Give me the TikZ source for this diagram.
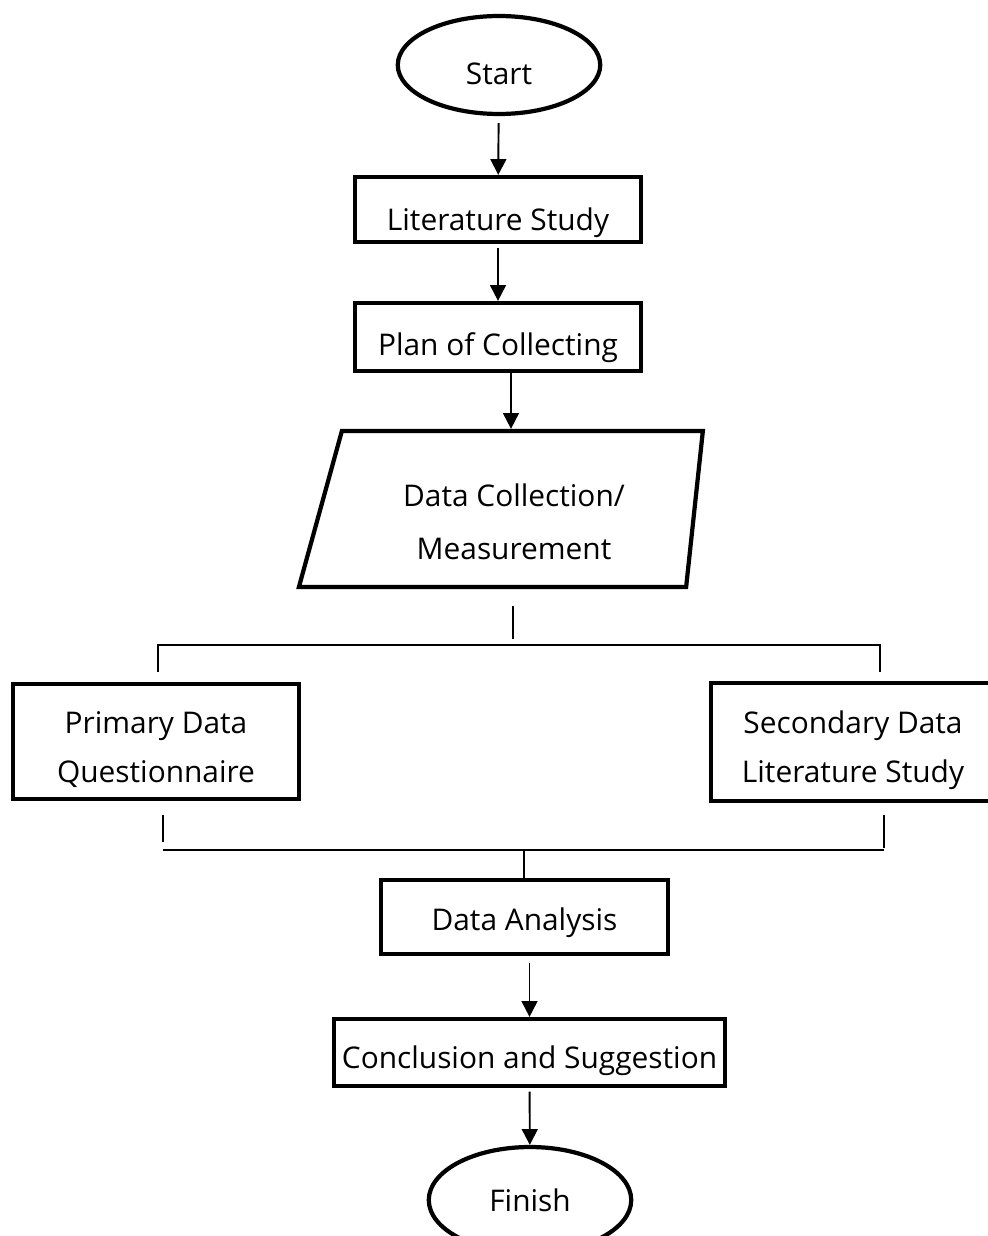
\documentclass[tikz,border=0pt]{standalone}
\usepackage{fontspec}
\setmainfont{Open Sans}
\usetikzlibrary{shapes.geometric, arrows.meta}
\tikzset{
	terminal/.style={draw, ellipse, line width=2.4pt, minimum width=4.05cm, minimum height=1.96cm, inner sep=0pt},
	process/.style={draw, rectangle, line width=2.4pt, inner sep=2pt},
	io/.style={draw, trapezium, trapezium left angle=69, trapezium right angle=98.5, trapezium stretches body, line width=2.4pt, minimum width=8.08cm, minimum height=3.12cm, align=center},
	% push the text down in its box
	low/.style={text height=#1, text depth=0pt},
	bus/.style={line width=1pt},
}

\begin{document}
\begin{tikzpicture}[x=0.02cm, y=-0.02cm, font=\fontsize{17}{28}\selectfont]
	\useasboundingbox (0,0) rectangle (987,1236);
	
	\node (start) [terminal, low=22.7pt] at (499,65) {Start};
	\node (lit) [process, minimum width=5.72cm, minimum height=1.3cm, low=24.3pt] at (498,209.5) {Literature Study};
	\node (plan) [process, minimum width=5.72cm, minimum height=1.36cm, low=21.5pt] at (498,337) {Plan of Collecting};
	\node (data) [io, low=57pt] at (514,509) {Data Collection/\\[2pt]Measurement};
	
	\node (prim) [process, minimum width=5.72cm, minimum height=2.3cm, align=center, low=46.5pt] at (156,741.5) {Primary Data\\Questionnaire};
	\node (sec) [process, minimum width=5.68cm, minimum height=2.36cm, align=center, low=46.5pt] at (853,742) {Secondary Data\\Literature Study};
	
	\node (ana) [process, minimum width=5.74cm, minimum height=1.48cm, low=15.8pt] at (524.5,917) {Data Analysis};
	\node (conc) [process, minimum width=7.82cm, minimum height=1.34cm, low=18.7pt] at (529.5,1052.5) {Conclusion and Suggestion};
	\node (fin) [terminal, minimum height=2.12cm] at (530,1200) {Finish};
	
	\coordinate (busL) at (158,645);
	\coordinate (busR) at (880,645);
	\coordinate (joinL) at (163,850);
	\coordinate (joinR) at (884,850);
	\coordinate (join) at (524,850);
	
	\begin{scope}[line width=1.1pt, -{Triangle[width=9pt,length=9pt]}]
		\draw [shorten <=4pt] (start) -- (lit);
		\draw [shorten <=2pt] (lit) -- (plan);
		\draw ([xshift=0.26cm]plan.south) -- ([xshift=0.26cm]plan.south |- data.north);
		\draw [shorten <=4pt] (ana.south -| conc.north) -- (conc.north);
		\draw [shorten <=2pt] (conc) -- (fin);
	\end{scope}
	
	\begin{scope}[bus]
		\draw ([shift={(-1,17)}]data.south) -- ++(0,33);
		\draw ([shift={(0,27)}]busL) -- (busL) -- (busR) -- ++(0,27);
		\draw ([shift={(0,-35)}]joinL) -- ++(0,27);
		\draw ([shift={(0,-35)}]joinR) -- ++(0,33);
		\draw (joinL) -- (joinR);
		\draw (join) -- (join |- ana.north);
	\end{scope}
\end{tikzpicture}
\end{document}
